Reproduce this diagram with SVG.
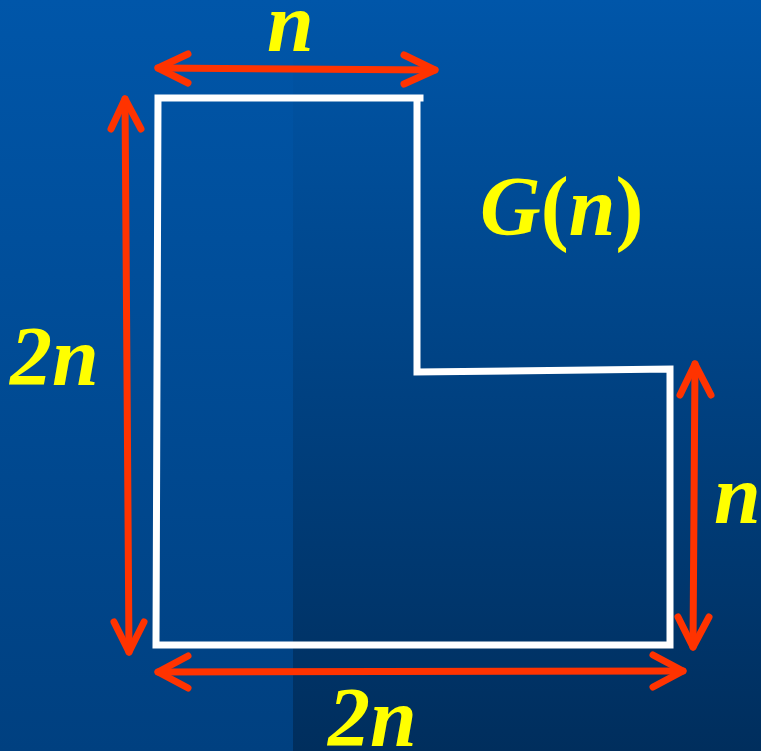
<svg xmlns="http://www.w3.org/2000/svg" width="761" height="751" viewBox="0 0 761 751">
  <defs>
    <linearGradient id="bgR" x1="0" y1="0" x2="0" y2="1">
      <stop offset="0" stop-color="#0056a9"/>
      <stop offset="1" stop-color="#002e5d"/>
    </linearGradient>
    <linearGradient id="bgL" x1="0" y1="0" x2="0" y2="1">
      <stop offset="0" stop-color="#0056a9"/>
      <stop offset="1" stop-color="#004080"/>
    </linearGradient>
  </defs>
  <style>
    .shape { fill: none; stroke: #ffffff; stroke-width: 7; stroke-linejoin: miter; stroke-linecap: square; }
    .dim { fill: none; stroke: #ff3300; stroke-width: 7; stroke-linecap: round; stroke-linejoin: round; }
    .lbl { fill: #ffff00; font-family: "Liberation Serif", "Times New Roman", serif; font-weight: bold; font-style: italic; font-size: 84px; }
    .up { font-style: normal; }
  </style>
  <rect x="0" y="0" width="761" height="751" fill="url(#bgR)"/>
  <rect x="0" y="0" width="293" height="751" fill="url(#bgL)"/>

  <g id="shape-G">
    <path class="shape" d="M158 98 L420 98 M417 98 L417 372 L670 369 L670 645 L156 645 L158 98"/>
  </g>

  <g id="connectors">
    <g id="dim-top">
      <path class="dim" d="M158 68 L435 70"/>
      <polyline class="dim" points="188,54 158,68 188,83"/>
      <polyline class="dim" points="404,55 435,70 404,84"/>
    </g>
    <g id="dim-left">
      <path class="dim" d="M125 99 L129 652"/>
      <polyline class="dim" points="111,129 125,99 141,129"/>
      <polyline class="dim" points="114,622 129,652 144,622"/>
    </g>
    <g id="dim-right">
      <path class="dim" d="M695 364 L693 647"/>
      <polyline class="dim" points="680,395 695,364 711,395"/>
      <polyline class="dim" points="678,617 693,647 709,617"/>
    </g>
    <g id="dim-bottom">
      <path class="dim" d="M158 672 L683 671"/>
      <polyline class="dim" points="188,656 158,672 188,688"/>
      <polyline class="dim" points="653,655 683,671 653,687"/>
    </g>
  </g>

  <g id="label-top-n"><text class="lbl" x="267" y="51">n</text></g>
  <g id="label-left-2n"><text class="lbl" x="10" y="385">2n</text></g>
  <g id="label-Gn"><text class="lbl" x="480" y="235">G<tspan class="up">(</tspan>n<tspan class="up">)</tspan></text></g>
  <g id="label-right-n"><text class="lbl" x="714" y="523">n</text></g>
  <g id="label-bottom-2n"><text class="lbl" x="328" y="746">2n</text></g>
</svg>
